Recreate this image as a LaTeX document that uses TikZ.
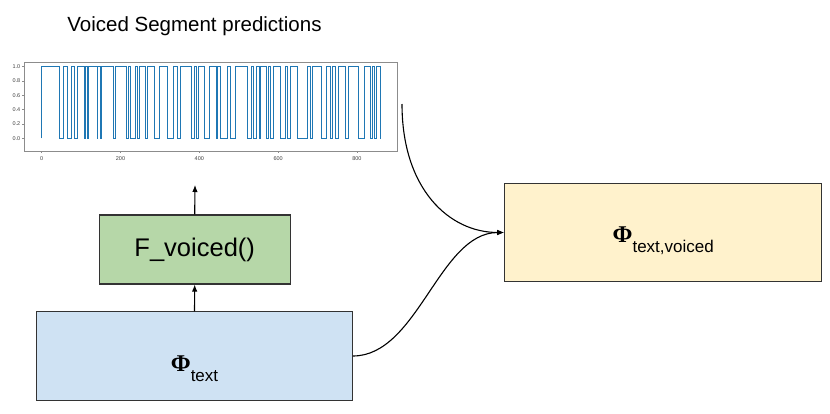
\documentclass[tikz,border=0pt]{standalone}
\usepackage{fontspec}
\setmainfont{Liberation Sans}
\newfontfamily\phifont{Liberation Serif}
\usetikzlibrary{arrows.meta,positioning}
\definecolor{voicedgreen}{HTML}{B6D7A8}
\definecolor{textblue}{HTML}{CFE2F3}
\definecolor{fusedyellow}{HTML}{FFF2CC}
\definecolor{boxline}{HTML}{333333}
\definecolor{plotblue}{HTML}{1F77B4}
\definecolor{axisgray}{HTML}{8C8C8C}
\newcommand{\phisub}[1]{{\fontsize{24}{24}\selectfont\phifont\bfseries Φ}\raisebox{-10pt}[0pt][0pt]{\fontsize{17}{17}\selectfont #1}}
\newcommand{\stagebox}[7][]{
    \node[
        draw=boxline,
        fill=#2,
        line width=1.1pt,
        minimum width=#5,
        minimum height=#6,
        inner sep=0pt,
        #1
    ] (#3) at #4 {#7};
}

\begin{document}
\begin{tikzpicture}[x=1pt,y=-1pt,>={Latex[length=7pt,width=5.5pt]}]
    \useasboundingbox (0,0) rectangle (830,413);
    \node (title) at (194.5,26) {\fontsize{20.5}{20.5}\selectfont Voiced Segment predictions};

    % prediction plot
    \draw[axisgray, line width=0.8pt] (24,62) rectangle (397,151);
    \foreach \v in {0,200,400,600,800}{
        \draw[axisgray, line width=0.6pt] ({41.7+0.394*\v},151) -- ({41.7+0.394*\v},153);
        \node[text=black!75, font=\fontsize{5.5}{5.5}\selectfont] at ({41.7+0.394*\v},158.5) {\v};
    }
    \foreach \v in {0.0,0.2,0.4,0.6,0.8,1.0}{
        \draw[axisgray, line width=0.6pt] (24,{138.3-71.6*\v}) -- (22,{138.3-71.6*\v});
        \node[anchor=east, inner sep=1pt, text=black!75, font=\fontsize{5.5}{5.5}\selectfont] at (21.5,{138.3-71.6*\v}) {\v};
    }
    \begin{scope}[shift={(41.7,138.3)}, x=0.394pt, y=71.6pt]
        \draw[plotblue, line width=0.7pt] (0,0)
            foreach \a/\b in {0/45,55/65,74/82,91/108,111/116,118/140,141/148,152/182,186/216,220/226,237/244,248/262,268/285,299/318,334/345,351/381,387/392,398/412,426/443,446/453,470/478,492/521,531/538,546/553,555/571,574/580,588/605,619/624,632/648,675/682,686/711,722/732,737/745,753/770,779/804,820/834,840/844,849/859}
            { -- (\a,0) -- (\a,1) -- (\b,1) -- (\b,0) } -- (860,0);
    \end{scope}
    \coordinate (plotout) at (402,104);
    \coordinate (plottop) at (195,185);

    \stagebox[text height=30pt]{textblue}{phitext}{(194.5,356)}{315.6pt}{88.3pt}{\phisub{text}}
    \stagebox{voicedgreen}{fvoiced}{(194.7,249.5)}{190.7pt}{69pt}{\fontsize{25.5}{25.5}\selectfont F\_voiced()}
    \stagebox[text height=19pt]{fusedyellow}{phivoiced}{(663.2,232.5)}{317pt}{98.4pt}{\phisub{text,voiced}}

    \draw[->, line width=1.1pt] (phitext.north) -- (fvoiced.south);
    \draw[->, line width=1.1pt] (fvoiced.north) -- (plottop);
    \draw[->, line width=1.1pt] (plotout) .. controls +(0,85) and +(-55,0) .. (phivoiced.west);
    \draw[->, line width=1.1pt] (phitext.east) .. controls +(65,0) and +(-65,0) .. (phivoiced.west);
\end{tikzpicture}
\end{document}
